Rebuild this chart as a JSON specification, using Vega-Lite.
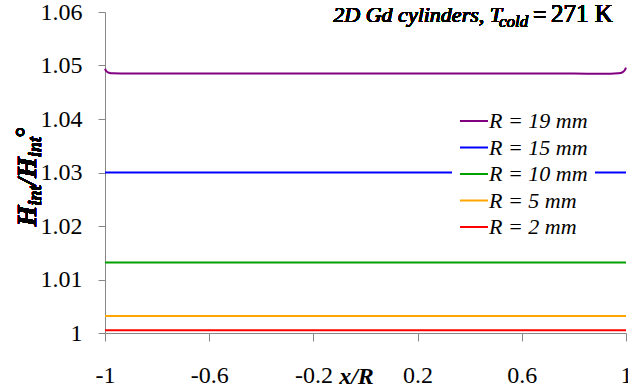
{
  "$schema": "https://vega.github.io/schema/vega-lite/v6.json",
  "autosize": "none",
  "width": 521,
  "height": 321,
  "padding": {"left": 105, "top": 12, "right": 2, "bottom": 55},
  "background": "white",
  "config": {
    "view": {"stroke": null},
    "axis": {
      "grid": false,
      "domainColor": "#888888",
      "tickColor": "#888888",
      "labelColor": "#000000",
      "labelFont": "Liberation Serif",
      "labelFontSize": 24,
      "labelFlush": false,
      "labelOverlap": false
    },
    "legend": {
      "orient": "none",
      "legendX": 347,
      "legendY": 87,
      "padding": 7,
      "fillColor": "white",
      "symbolType": "stroke",
      "symbolSize": 784,
      "symbolStrokeWidth": 2,
      "labelFont": "Liberation Serif",
      "labelFontStyle": "italic",
      "labelFontSize": 22,
      "labelColor": "#000000",
      "labelOffset": 0,
      "rowPadding": 0.5
    }
  },
  "data": {
    "values": [
      {"x": -1, "y": 1.0494, "series": "R = 19 mm"},
      {"x": -0.995, "y": 1.04895, "series": "R = 19 mm"},
      {"x": -0.985, "y": 1.04865, "series": "R = 19 mm"},
      {"x": -0.97, "y": 1.04853, "series": "R = 19 mm"},
      {"x": -0.94, "y": 1.0485, "series": "R = 19 mm"},
      {"x": -0.8, "y": 1.0485, "series": "R = 19 mm"},
      {"x": 0, "y": 1.0485, "series": "R = 19 mm"},
      {"x": 0.8, "y": 1.0485, "series": "R = 19 mm"},
      {"x": 0.9, "y": 1.04846, "series": "R = 19 mm"},
      {"x": 0.94, "y": 1.04846, "series": "R = 19 mm"},
      {"x": 0.97, "y": 1.04855, "series": "R = 19 mm"},
      {"x": 0.985, "y": 1.0487, "series": "R = 19 mm"},
      {"x": 0.995, "y": 1.0491, "series": "R = 19 mm"},
      {"x": 1, "y": 1.0496, "series": "R = 19 mm"},
      {"x": -1, "y": 1.03, "series": "R = 15 mm"},
      {"x": 1, "y": 1.03, "series": "R = 15 mm"},
      {"x": -1, "y": 1.0132, "series": "R = 10 mm"},
      {"x": 1, "y": 1.0132, "series": "R = 10 mm"},
      {"x": -1, "y": 1.0032, "series": "R = 5 mm"},
      {"x": 1, "y": 1.0032, "series": "R = 5 mm"},
      {"x": -1, "y": 1.0005, "series": "R = 2 mm"},
      {"x": 1, "y": 1.0005, "series": "R = 2 mm"}
    ]
  },
  "layer": [
    {
      "mark": {"type": "line", "strokeWidth": 2, "interpolate": "monotone"},
      "encoding": {
        "x": {
          "field": "x",
          "type": "quantitative",
          "scale": {"domain": [-1, 1], "nice": false, "zero": false},
          "axis": {
            "values": [-1, -0.6, -0.2, 0.2, 0.6, 1],
            "labelExpr": "toString(datum.value)",
            "tickSize": 8,
            "labelPadding": 22,
            "title": "x/R",
            "titleFont": "Liberation Serif",
            "titleFontSize": 24,
            "titleFontStyle": "italic",
            "titleFontWeight": "bold",
            "titleColor": "#000000",
            "titleAnchor": "start",
            "titleAlign": "center",
            "titleBaseline": "alphabetic",
            "titleX": 251,
            "titleY": 50
          }
        },
        "y": {
          "field": "y",
          "type": "quantitative",
          "scale": {"domain": [1, 1.06], "nice": false, "zero": false},
          "axis": {
            "values": [1, 1.01, 1.02, 1.03, 1.04, 1.05, 1.06],
            "format": ".2~f",
            "tickSize": 7,
            "labelPadding": 16,
            "title": null
          }
        },
        "color": {
          "field": "series",
          "type": "nominal",
          "sort": ["R = 19 mm", "R = 15 mm", "R = 10 mm", "R = 5 mm", "R = 2 mm"],
          "scale": {
            "domain": ["R = 19 mm", "R = 15 mm", "R = 10 mm", "R = 5 mm", "R = 2 mm"],
            "range": ["#800080", "#0000FF", "#00A000", "#FFA500", "#FF0000"]
          },
          "legend": {"title": null}
        }
      }
    },
    {
      "mark": {"type": "text", "text": "2D Gd cylinders, T", "font": "Liberation Serif", "fontStyle": "italic", "fontWeight": "normal", "fontSize": 22, "align": "right", "baseline": "alphabetic", "dx": -124, "dy": 10, "color": "#000000"},
      "encoding": {"x": {"datum": 1, "type": "quantitative"}, "y": {"datum": 1.06, "type": "quantitative"}}
    },
    {
      "mark": {"type": "text", "text": "cold", "font": "Liberation Serif", "fontStyle": "italic", "fontWeight": "normal", "fontSize": 17, "align": "left", "baseline": "alphabetic", "dx": -127, "dy": 15, "color": "#000000"},
      "encoding": {"x": {"datum": 1, "type": "quantitative"}, "y": {"datum": 1.06, "type": "quantitative"}}
    },
    {
      "mark": {"type": "text", "text": "=", "font": "Liberation Serif", "fontWeight": "normal", "fontSize": 24, "align": "left", "baseline": "alphabetic", "dx": -93, "dy": 10, "color": "#000000"},
      "encoding": {"x": {"datum": 1, "type": "quantitative"}, "y": {"datum": 1.06, "type": "quantitative"}}
    },
    {
      "mark": {"type": "text", "text": "271 K", "font": "Liberation Serif", "fontWeight": "normal", "fontSize": 25, "align": "left", "baseline": "alphabetic", "dx": -75, "dy": 10, "color": "#000000"},
      "encoding": {"x": {"datum": 1, "type": "quantitative"}, "y": {"datum": 1.06, "type": "quantitative"}}
    },
    {
      "mark": {"type": "text", "text": "H", "angle": 270, "font": "Liberation Serif", "fontStyle": "italic", "fontWeight": "bold", "fontSize": 27, "align": "left", "baseline": "alphabetic", "dx": -54, "dy": -69, "color": "#000000"},
      "encoding": {"x": {"datum": -1, "type": "quantitative"}, "y": {"datum": 1.03, "type": "quantitative"}}
    },
    {
      "mark": {"type": "text", "text": "int", "angle": 270, "font": "Liberation Serif", "fontStyle": "italic", "fontWeight": "bold", "fontSize": 18, "align": "left", "baseline": "alphabetic", "dx": -33, "dy": -64, "color": "#000000"},
      "encoding": {"x": {"datum": -1, "type": "quantitative"}, "y": {"datum": 1.03, "type": "quantitative"}}
    },
    {
      "mark": {"type": "text", "text": "/H", "angle": 270, "font": "Liberation Serif", "fontStyle": "italic", "fontWeight": "bold", "fontSize": 27, "align": "left", "baseline": "alphabetic", "dx": -13, "dy": -69, "color": "#000000"},
      "encoding": {"x": {"datum": -1, "type": "quantitative"}, "y": {"datum": 1.03, "type": "quantitative"}}
    },
    {
      "mark": {"type": "text", "text": "int", "angle": 270, "font": "Liberation Serif", "fontStyle": "italic", "fontWeight": "bold", "fontSize": 18, "align": "left", "baseline": "alphabetic", "dx": 15.5, "dy": -64, "color": "#000000"},
      "encoding": {"x": {"datum": -1, "type": "quantitative"}, "y": {"datum": 1.03, "type": "quantitative"}}
    },
    {
      "mark": {"type": "text", "text": "°", "angle": 270, "font": "Liberation Serif", "fontWeight": "bold", "fontSize": 27, "align": "left", "baseline": "alphabetic", "dx": 35, "dy": -71, "color": "#000000"},
      "encoding": {"x": {"datum": -1, "type": "quantitative"}, "y": {"datum": 1.03, "type": "quantitative"}}
    }
  ]
}
